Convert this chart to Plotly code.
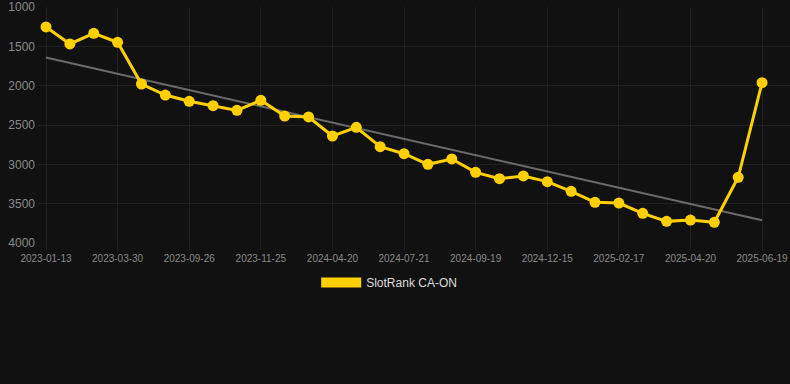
import numpy as np
import plotly.graph_objects as go

dates = ["2023-01-13", "2023-02-08", "2023-03-05", "2023-03-30", "2023-05-29",
         "2023-07-28", "2023-09-26", "2023-10-16", "2023-11-05", "2023-11-25",
         "2024-01-20", "2024-03-06", "2024-04-20", "2024-05-21", "2024-06-20",
         "2024-07-21", "2024-08-10", "2024-08-30", "2024-09-19", "2024-10-18",
         "2024-11-16", "2024-12-15", "2025-01-05", "2025-01-27", "2025-02-17",
         "2025-03-10", "2025-03-30", "2025-04-20", "2025-05-10", "2025-05-30",
         "2025-06-19"]
ranks = [1254, 1470, 1335, 1449, 1979, 2119, 2199, 2254, 2314, 2186,
         2386, 2398, 2640, 2530, 2776, 2865, 3000, 2932, 3102, 3182,
         3148, 3220, 3343, 3483, 3492, 3623, 3725, 3708, 3737, 3165,
         1962]
tick_labels = dates[::3]
series_name = "SlotRank CA-ON"

idx = np.arange(len(dates))
coef = np.polyfit(idx, ranks, 1)
trend = np.polyval(coef, idx)

YELLOW = "#FFD000"
GRID = "#202020"

fig = go.Figure()
fig.add_trace(go.Scatter(
    x=idx, y=trend, mode="lines",
    line=dict(color="#6b6b6b", width=2),
    showlegend=False, hoverinfo="skip"))
fig.add_trace(go.Scatter(
    x=idx, y=ranks, mode="lines+markers",
    line=dict(color=YELLOW, width=3),
    marker=dict(color=YELLOW, size=11),
    showlegend=False, name=series_name))
fig.add_trace(go.Scatter(
    x=[None], y=[None], mode="lines",
    line=dict(color=YELLOW, width=13),
    name=series_name, showlegend=True))

fig.update_layout(
    width=790, height=384,
    paper_bgcolor="#111111", plot_bgcolor="#111111",
    margin=dict(l=38, r=0, t=7, b=141),
    font=dict(family="Liberation Sans, Arial, sans-serif", color="#8a8a8a"),
    showlegend=True,
    legend=dict(orientation="h", x=0.467, xanchor="center", y=-0.106, yanchor="top",
                font=dict(size=12, color="#dddddd"), itemwidth=40,
                bgcolor="rgba(0,0,0,0)"),
)
fig.update_xaxes(
    range=[-0.335, 31.17],
    tickmode="array", tickvals=idx[::3], ticktext=tick_labels,
    tickfont=dict(size=10, color="#8a8a8a"),
    showgrid=True, gridcolor=GRID, gridwidth=1,
    ticks="outside", ticklen=6, tickcolor=GRID,
    zeroline=False, showline=False,
)
fig.update_yaxes(
    range=[4000, 1000],
    tickvals=[1000, 1500, 2000, 2500, 3000, 3500, 4000],
    tickfont=dict(size=12, color="#8a8a8a"),
    showgrid=True, gridcolor=GRID, gridwidth=1,
    zeroline=False, showline=False, ticks="", ticklabelstandoff=2,
)

fig.write_html("out.html",
               config={"displayModeBar": False},
               post_script="document.body.style.margin='0';document.body.style.background='#111111';")
